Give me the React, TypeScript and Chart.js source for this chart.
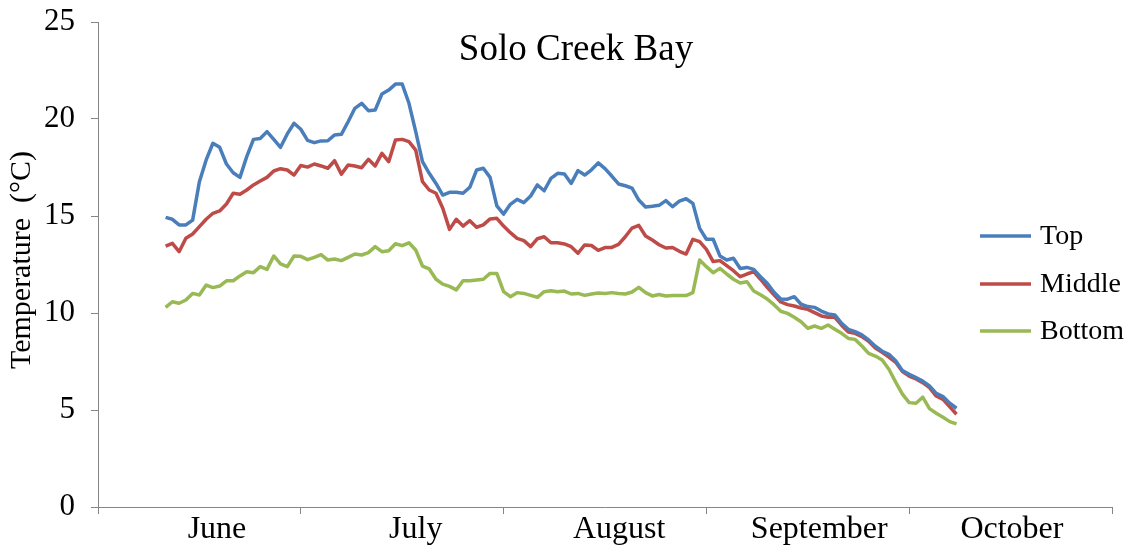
import React, { useEffect, useRef } from 'react';
import { Chart, registerables } from 'chart.js';

Chart.register(...registerables);

// ---- data ----
const MONTHS = ['June', 'July', 'August', 'September', 'October'];
const DAYS_PER_MONTH = 30;
const FIRST_DAY = 10; // first sample sits on day slot 10 of the 150-slot axis
const Y_TICKS = [0, 5, 10, 15, 20, 25];
const SERIES_NAMES = ['Top', 'Middle', 'Bottom'];
const CHART_TITLE = 'Solo Creek Bay';
const Y_TITLE = 'Temperature  (°C)';

const TOP = [
  14.93, 14.83, 14.54, 14.54, 14.79, 16.77, 17.89, 18.75, 18.54, 17.68,
  17.23, 16.99, 18.06, 18.95, 19.0, 19.35, 18.95, 18.54, 19.23, 19.78,
  19.47, 18.9, 18.78, 18.87, 18.88, 19.18, 19.21, 19.86, 20.55, 20.81,
  20.43, 20.46, 21.29, 21.49, 21.8, 21.8, 20.81, 19.35, 17.8, 17.2,
  16.68, 16.08, 16.22, 16.22, 16.17, 16.48, 17.37, 17.46, 16.99, 15.52,
  15.1, 15.6, 15.86, 15.69, 16.03, 16.6, 16.3, 16.94, 17.2, 17.16,
  16.68, 17.34, 17.11, 17.38, 17.74, 17.44, 17.06, 16.65, 16.56, 16.44,
  15.82, 15.46, 15.5, 15.55, 15.79, 15.48, 15.77, 15.89, 15.65, 14.36,
  13.8, 13.8, 12.94, 12.73, 12.82, 12.29, 12.35, 12.25, 11.87, 11.53,
  11.07, 10.72, 10.71, 10.84, 10.45, 10.33, 10.29, 10.1, 9.95, 9.9,
  9.47, 9.16, 9.04, 8.87, 8.61, 8.29, 8.03, 7.87, 7.54, 7.03,
  6.84, 6.67, 6.49, 6.24, 5.86, 5.69, 5.35, 5.09,
];

const MIDDLE = [
  13.45, 13.59, 13.16, 13.85, 14.07, 14.45, 14.83, 15.14, 15.26, 15.62,
  16.17, 16.12, 16.34, 16.6, 16.8, 16.99, 17.32, 17.44, 17.37, 17.11,
  17.6, 17.52, 17.68, 17.58, 17.46, 17.85, 17.16, 17.63, 17.58, 17.49,
  17.92, 17.58, 18.23, 17.8, 18.92, 18.95, 18.83, 18.4, 16.77, 16.34,
  16.17, 15.4, 14.31, 14.83, 14.48, 14.76, 14.42, 14.54, 14.85, 14.88,
  14.48, 14.14, 13.85, 13.73, 13.42, 13.83, 13.93, 13.62, 13.62, 13.56,
  13.42, 13.08, 13.51, 13.48, 13.23, 13.37, 13.38, 13.54, 13.93, 14.38,
  14.52, 13.97, 13.76, 13.52, 13.35, 13.38, 13.18, 13.04, 13.8, 13.68,
  13.28, 12.65, 12.7, 12.44, 12.18, 11.87, 12.01, 12.13, 11.74, 11.32,
  10.94, 10.57, 10.43, 10.36, 10.26, 10.19, 10.02, 9.85, 9.78, 9.78,
  9.37, 9.02, 8.95, 8.78, 8.54, 8.2, 7.97, 7.73, 7.46, 6.98,
  6.75, 6.6, 6.41, 6.15, 5.72, 5.55, 5.17, 4.78,
];

const BOTTOM = [
  10.29, 10.58, 10.5, 10.67, 11.01, 10.93, 11.44, 11.31, 11.39, 11.66,
  11.66, 11.91, 12.13, 12.08, 12.39, 12.25, 12.94, 12.53, 12.39, 12.94,
  12.92, 12.75, 12.87, 13.01, 12.73, 12.78, 12.7, 12.87, 13.04, 12.99,
  13.11, 13.42, 13.16, 13.21, 13.57, 13.47, 13.62, 13.25, 12.42, 12.27,
  11.74, 11.49, 11.37, 11.19, 11.66, 11.66, 11.7, 11.74, 12.04, 12.04,
  11.1, 10.84, 11.05, 11.01, 10.91, 10.81, 11.1, 11.15, 11.1, 11.13,
  10.98, 11.01, 10.91, 10.98, 11.03, 11.01, 11.05, 11.01, 10.98, 11.08,
  11.32, 11.05, 10.88, 10.95, 10.88, 10.9, 10.9, 10.9, 11.05, 12.73,
  12.39, 12.08, 12.3, 12.01, 11.74, 11.55, 11.61, 11.13, 10.94, 10.72,
  10.43, 10.09, 9.98, 9.78, 9.55, 9.21, 9.33, 9.21, 9.38, 9.16,
  8.95, 8.69, 8.64, 8.3, 7.92, 7.78, 7.58, 7.1, 6.44, 5.82,
  5.38, 5.35, 5.66, 5.07, 4.83, 4.62, 4.4, 4.28,
];

// ---- layout / styles ----
// where each month name sits along the day axis (layout, not data)
const MONTH_LABEL_AT = [17.6, 47, 77.1, 106.7, 135.2];
const COLORS = ['#4A7EBB', '#BE4B48', '#98B954'];
const AXIS_COLOR = '#868686';
const FONT = "'Liberation Serif', 'Times New Roman', serif";

const toPoints = (vals: number[]) =>
  vals.map((v, k) => ({ x: FIRST_DAY + k, y: v }));

const overlayPlugin = {
  id: 'overlay',
  afterDraw(chart: any) {
    const ctx = chart.ctx as CanvasRenderingContext2D;
    ctx.save();
    ctx.fillStyle = '#000';
    // title
    ctx.font = `37px ${FONT}`;
    ctx.textAlign = 'center';
    ctx.textBaseline = 'middle';
    ctx.fillText(CHART_TITLE, 576, 50);
    // y-axis title
    ctx.save();
    ctx.translate(22, 260);
    ctx.rotate(-Math.PI / 2);
    ctx.font = `30px ${FONT}`;
    ctx.fillText(Y_TITLE, 0, 0);
    ctx.restore();
    // legend
    const legendY = [236, 284, 331];
    chart.data.datasets.forEach((ds: any, i: number) => {
      const y = legendY[i];
      ctx.strokeStyle = ds.borderColor;
      ctx.lineWidth = 3.5;
      ctx.beginPath();
      ctx.moveTo(980, y);
      ctx.lineTo(1031, y);
      ctx.stroke();
      ctx.font = `28px ${FONT}`;
      ctx.textAlign = 'left';
      ctx.textBaseline = 'middle';
      ctx.fillStyle = '#000';
      ctx.fillText(ds.label, 1040, y + 1);
    });
    ctx.restore();
  },
};

export default function App() {
  const canvasRef = useRef<HTMLCanvasElement | null>(null);

  useEffect(() => {
    const canvas = canvasRef.current;
    if (!canvas) return;
    const xMax = MONTHS.length * DAYS_PER_MONTH;
    const chart = new Chart(canvas, {
      type: 'line',
      data: {
        datasets: [TOP, MIDDLE, BOTTOM].map((vals, i) => ({
          label: SERIES_NAMES[i],
          data: toPoints(vals),
          borderColor: COLORS[i],
          backgroundColor: COLORS[i],
          borderWidth: 3.5,
          pointRadius: 0,
          tension: 0,
          fill: false,
          borderJoinStyle: 'round' as const,
        })),
      },
      options: {
        responsive: false,
        animation: false,
        devicePixelRatio: 1,
        layout: { padding: { top: 22, right: 21, left: 0, bottom: 0 } },
        plugins: {
          legend: { display: false },
          title: { display: false },
          tooltip: { enabled: false },
        },
        scales: {
          x: {
            type: 'linear',
            min: 0,
            max: xMax,
            afterBuildTicks: (scale: any) => {
              const ticks: any[] = [];
              for (let m = 0; m <= MONTHS.length; m++) {
                ticks.push({ value: m * DAYS_PER_MONTH });
              }
              MONTH_LABEL_AT.forEach((v) => ticks.push({ value: v }));
              ticks.sort((a, b) => a.value - b.value);
              scale.ticks = ticks;
            },
            afterFit: (scale: any) => {
              scale.height = 41;
              scale.paddingLeft = 0;
              scale.paddingRight = 0;
            },
            ticks: {
              autoSkip: false,
              maxRotation: 0,
              color: '#000',
              padding: -4,
              font: { family: FONT, size: 32 },
              callback: (v: any) => {
                const idx = MONTH_LABEL_AT.indexOf(Number(v));
                return idx >= 0 ? MONTHS[idx] : '';
              },
            },
            grid: {
              drawOnChartArea: false,
              drawTicks: true,
              tickLength: 7,
              tickWidth: 1,
              tickColor: (ctx: any) =>
                ctx.tick && ctx.tick.value % DAYS_PER_MONTH === 0 ? AXIS_COLOR : 'rgba(0,0,0,0)',
            },
            border: { color: AXIS_COLOR, width: 1 },
          },
          y: {
            min: Y_TICKS[0],
            max: Y_TICKS[Y_TICKS.length - 1],
            afterBuildTicks: (scale: any) => {
              scale.ticks = Y_TICKS.map((v) => ({ value: v }));
            },
            afterFit: (scale: any) => {
              scale.width = 98;
              scale.paddingTop = 0;
              scale.paddingBottom = 0;
            },
            ticks: {
              color: '#000',
              padding: 16,
              font: { family: FONT, size: 31 },
            },
            grid: {
              drawOnChartArea: false,
              drawTicks: true,
              tickLength: 7,
              tickColor: AXIS_COLOR,
            },
            border: { color: AXIS_COLOR, width: 1 },
          },
        },
      },
      plugins: [overlayPlugin],
    });
    return () => chart.destroy();
  }, []);

  return (
    <div style={{ position: 'absolute', left: 0, top: 0, width: 1133, height: 548, background: '#fff' }}>
      <canvas ref={canvasRef} width={1133} height={548} />
    </div>
  );
}
